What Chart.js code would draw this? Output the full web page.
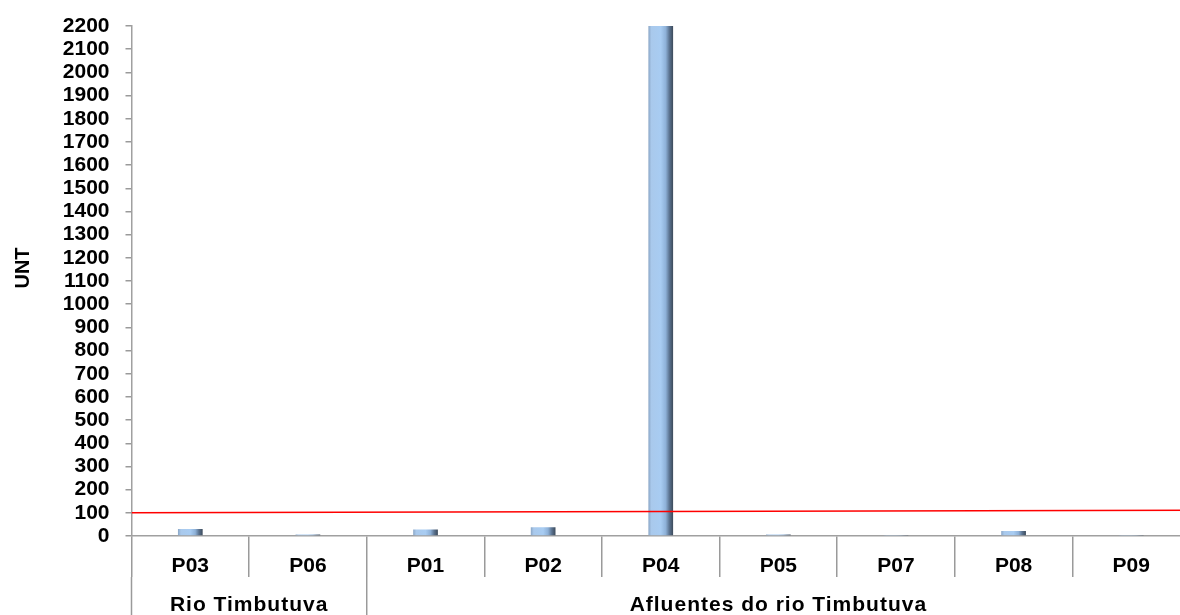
<!DOCTYPE html>
<html>
<head>
<meta charset="utf-8">
<script src="https://cdn.jsdelivr.net/npm/chart.js"></script>
<style>
  html, body { margin: 0; padding: 0; background: #fff; overflow: hidden; }
  #wrap { width: 1200px; height: 615px; }
</style>
</head>
<body>
<div id="wrap"><canvas id="c"></canvas></div>
<script>
  const stations = ['P03', 'P06', 'P01', 'P02', 'P04', 'P05', 'P07', 'P08', 'P09'];
  const turbidity = [30, 6, 28, 38, 2200, 7, 2, 22, 2];
  const groupNames = ['Rio Timbutuva', 'Afluentes do rio Timbutuva'];
  const groupSizes = [2, 7];
  const limitLine = [100, 111];   // reference limit, start and end of the plot

  const FONT = '"Liberation Sans", Arial, sans-serif';
  const BAR_PCT = 0.21;

  // bevelled look: light left edge, pale blue middle, dark right edge
  function barFill(c) {
    const chart = c.chart;
    if (!chart.chartArea) return '#a3c4e8';
    const x = chart.scales.x;
    const cx = x.getPixelForValue(c.dataIndex);
    const half = (x.getPixelForValue(1) - x.getPixelForValue(0)) * BAR_PCT / 2;
    const g = chart.ctx.createLinearGradient(cx - half, 0, cx + half, 0);
    g.addColorStop(0, '#8aa6c6');
    g.addColorStop(0.12, '#a9c9ec');
    g.addColorStop(0.5, '#a8ccf2');
    g.addColorStop(0.7, '#8eb1d8');
    g.addColorStop(0.85, '#5b7390');
    g.addColorStop(1, '#3c4a5a');
    return g;
  }

  // second row of the category axis + vertical title
  const groupAxis = {
    id: 'groupAxis',
    afterDraw(chart) {
      const { ctx } = chart;
      const x = chart.scales.x;
      const step = x.getPixelForValue(1) - x.getPixelForValue(0);
      ctx.save();
      ctx.strokeStyle = '#9a9a9a';
      ctx.lineWidth = 1.5;
      ctx.fillStyle = '#000';
      ctx.font = 'bold 21px ' + FONT;
      ctx.letterSpacing = '1px';
      ctx.textAlign = 'center';
      ctx.textBaseline = 'middle';
      let start = 0;
      groupNames.forEach((name, i) => {
        const left = x.getPixelForValue(start) - step / 2;
        const right = x.getPixelForValue(start + groupSizes[i] - 1) + step / 2;
        ctx.beginPath();
        ctx.moveTo(left, 577);
        ctx.lineTo(left, 615);
        ctx.stroke();
        ctx.fillText(name, (left + right) / 2, 605);
        start += groupSizes[i];
      });
      ctx.letterSpacing = '0px';
      ctx.translate(23, 268);
      ctx.rotate(-Math.PI / 2);
      ctx.font = 'bold 20px ' + FONT;
      ctx.fillText('UNT', 0, 0);
      ctx.restore();
    }
  };

  new Chart(document.getElementById('c'), {
    type: 'bar',
    data: {
      labels: stations,
      datasets: [
        {
          type: 'line',
          xAxisID: 'xLine',
          data: [{ x: 0, y: limitLine[0] }, { x: 1, y: limitLine[1] }],
          borderColor: '#ff0000',
          borderWidth: 1.6,
          pointRadius: 0,
          order: 0,
        },
        {
          data: turbidity,
          backgroundColor: barFill,
          borderWidth: 0,
          grouped: false,
          barPercentage: BAR_PCT,
          categoryPercentage: 1,
          order: 1,
        },
      ],
    },
    options: {
      responsive: true,
      maintainAspectRatio: false,
      animation: false,
      layout: { padding: { top: 26, right: 10, left: 0, bottom: 0 } },
      plugins: { legend: { display: false }, tooltip: { enabled: false } },
      scales: {
        x: {
          offset: true,
          grid: { drawOnChartArea: false, offset: true, tickLength: 41, color: '#9a9a9a', lineWidth: 1.5 },
          border: { color: '#a0a0a0', width: 1.5 },
          ticks: { color: '#000', font: { family: FONT, size: 21, weight: 'bold' }, padding: -23, maxRotation: 0 },
          afterFit: s => { s.height = 79; },
        },
        xLine: { type: 'linear', display: false, offset: false, min: 0, max: 1 },
        y: {
          min: 0,
          max: 2200,
          ticks: {
            stepSize: 100,
            autoSkip: false,
            callback: v => String(v),
            color: '#000',
            font: { family: FONT, size: 21, weight: 'bold' },
            padding: 16,
          },
          grid: { drawOnChartArea: false, tickLength: 6, color: '#9a9a9a', lineWidth: 1.5 },
          border: { color: '#a0a0a0', width: 1.5 },
          afterFit: s => { s.width = 131.5; s.paddingTop = 0; s.paddingBottom = 0; },
        },
      },
    },
    plugins: [groupAxis],
  });
</script>
</body>
</html>
